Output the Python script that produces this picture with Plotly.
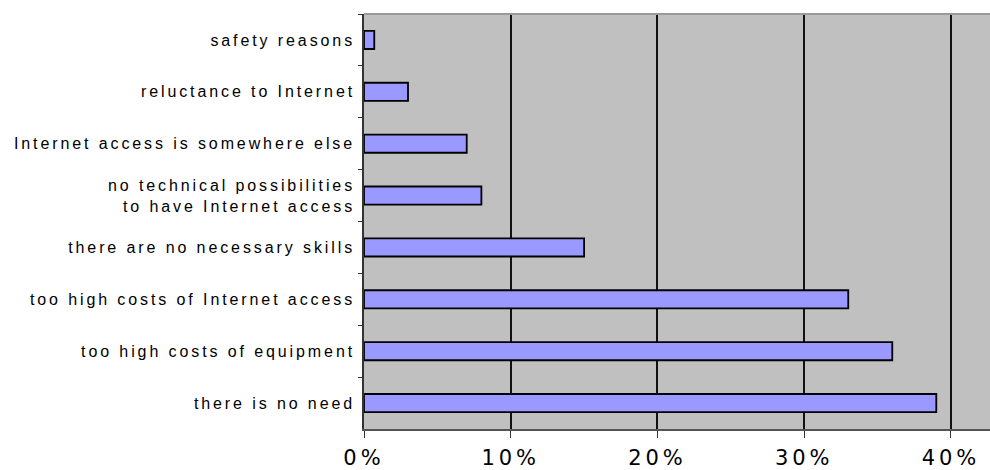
import plotly.graph_objects as go

categories = [
    "safety reasons",
    "reluctance to Internet",
    "Internet access is somewhere else",
    "no technical possibilities<br>to have Internet access",
    "there are no necessary skills",
    "too high costs of Internet access",
    "too high costs of equipment",
    "there is no need",
]
values = [0.7, 3, 7, 8, 15, 33, 36, 39]
x_tick_vals = [0, 10, 20, 30, 40]
x_tick_text = ["0%", "10%", "20%", "30%", "40%"]

fig = go.Figure()
fig.add_trace(go.Bar(
    y=categories,
    x=values,
    orientation="h",
    marker=dict(color="#9999FF", line=dict(color="#000000", width=1.8)),
    hoverinfo="x+y",
))

fig.update_layout(
    width=990,
    height=470,
    margin=dict(l=364, r=0, t=14, b=41),
    paper_bgcolor="#FFFFFF",
    plot_bgcolor="#C0C0C0",
    bargap=0.65,
    showlegend=False,
    xaxis=dict(
        range=[0, 42.66],
        tickvals=x_tick_vals,
        ticktext=x_tick_text,
        showgrid=True,
        gridcolor="#111111",
        gridwidth=1.5,
        zeroline=False,
        showline=True,
        linecolor="#555555",
        linewidth=1.5,
        ticks="outside",
        ticklen=7,
        tickcolor="#333333",
        tickfont=dict(family="DejaVu Sans", size=21, color="#000000"),
        ticklabelstandoff=2,
    ),
    yaxis=dict(
        autorange="reversed",
        showgrid=False,
        zeroline=False,
        showline=True,
        linecolor="#333333",
        linewidth=1.5,
        ticks="outside",
        ticklen=4,
        tickcolor="#333333",
        tickson="boundaries",
        tickfont=dict(family="Liberation Sans, Arial", size=16, color="#000000"),
        ticklabelstandoff=4,
    ),
    shapes=[
        dict(type="line", xref="paper", yref="paper", x0=0, x1=1, y0=1, y1=1,
             line=dict(color="#999999", width=2)),
    ],
)

post = """
document.body.style.margin = '0';
document.body.style.padding = '0';
var gd = document.getElementById('{plot_id}');
function sp(){
  gd.querySelectorAll('.ytick text').forEach(function(t){ t.style.letterSpacing='2.9px'; });
  gd.querySelectorAll('.xtick text').forEach(function(t){ t.style.letterSpacing='4px'; });
}
sp();
gd.on('plotly_afterplot', sp);
"""

fig.write_html("out.html", post_script=post, config={"displayModeBar": False})
